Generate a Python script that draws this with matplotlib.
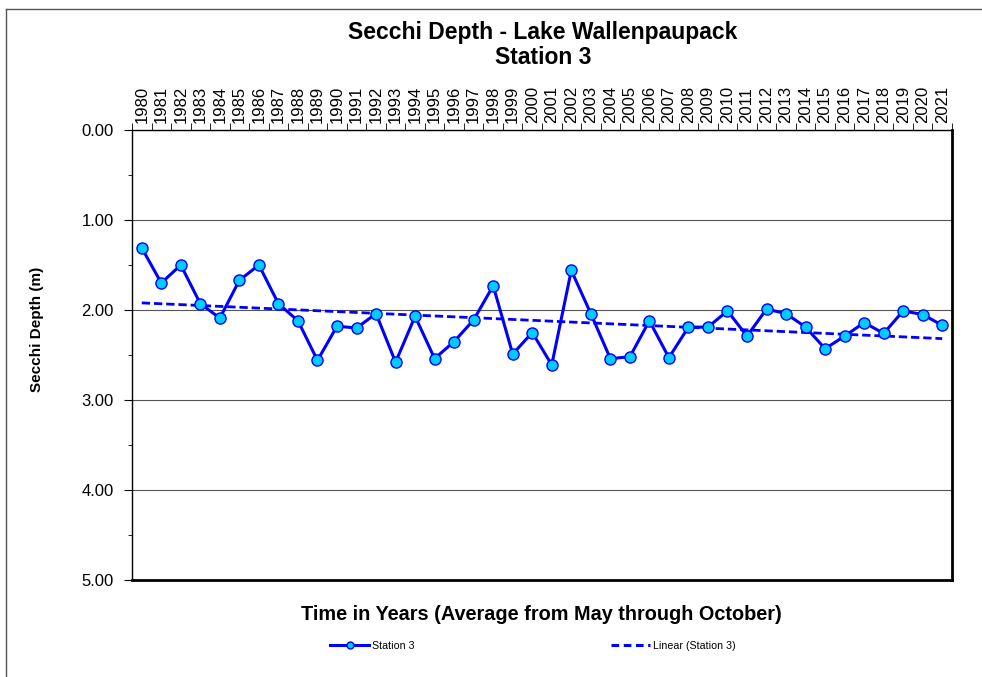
import numpy as np
import matplotlib.pyplot as plt
from matplotlib.lines import Line2D
from matplotlib.ticker import MultipleLocator

plt.rcParams['font.family'] = ['Liberation Sans', 'DejaVu Sans']

# Datos: profundidad Secchi promedio (m), mayo-octubre
anios = list(range(1980, 2022))
profundidad = [1.31, 1.70, 1.50, 1.93, 2.09, 1.67, 1.50, 1.93, 2.12, 2.56,
               2.18, 2.20, 2.04, 2.58, 2.07, 2.54, 2.35, 2.11, 1.73, 2.49,
               2.25, 2.61, 1.56, 2.04, 2.54, 2.52, 2.12, 2.53, 2.19, 2.19,
               2.01, 2.29, 1.99, 2.04, 2.19, 2.43, 2.29, 2.14, 2.26, 2.01,
               2.05, 2.17]
etiquetas = [str(a) for a in anios]

x = np.arange(len(anios))
pend, inter = np.polyfit(x, profundidad, 1)
tendencia = pend * x + inter

fig = plt.figure(figsize=(9.82, 6.77), dpi=100)
ax = fig.add_axes([132/982, 1 - 580/677, 820/982, 450/677])

azul = '#0000FF'
cian = '#00CCFF'

ax.plot(x, profundidad, '-o', color=azul, lw=2.2, markersize=8,
        markerfacecolor=cian, markeredgecolor=azul, markeredgewidth=1.0,
        zorder=4)
ax.plot(x, tendencia, '--', color=azul, lw=2.0, dashes=(3, 1.4), zorder=3)

ax.set_xlim(-0.5, len(anios) - 0.5)
ax.set_ylim(5, 0)
ax.yaxis.set_major_locator(MultipleLocator(1))
ax.yaxis.set_minor_locator(MultipleLocator(0.5))
ax.set_yticklabels([f'{v:.2f}' for v in ax.get_yticks()])
ax.tick_params(axis='y', which='major', direction='out', length=6,
               labelsize=12, pad=7)
ax.tick_params(axis='y', which='minor', direction='out', length=3)

ax.xaxis.tick_top()
ax.set_xticks(x)
ax.set_xticklabels(etiquetas, rotation=90, fontsize=12)
ax.set_xticks(np.arange(-0.5, len(anios)), minor=True)
ax.tick_params(axis='x', which='major', length=0, pad=5)
ax.tick_params(axis='x', which='minor', direction='out', length=5)

ax.grid(axis='y', which='major', color='#555555', lw=0.8)
ax.set_axisbelow(True)
ax.spines['left'].set_linewidth(1.0)
ax.spines['top'].set_linewidth(1.0)
ax.spines['right'].set_linewidth(2.0)
ax.spines['bottom'].set_linewidth(2.0)

fig.text(37/982, 1 - 329/677, 'Secchi Depth (m)', rotation=90,
         ha='center', va='center', fontsize=11, fontweight='bold')

fig.text(543/982, 1 - 32/677, 'Secchi Depth - Lake Wallenpaupack',
         ha='center', va='center', fontsize=16.5, fontweight='bold')
fig.text(543/982, 1 - 58/677, 'Station 3',
         ha='center', va='center', fontsize=16.5, fontweight='bold')
fig.text(541/982, 1 - 615/677,
         'Time in Years (Average from May through October)',
         ha='center', va='center', fontsize=14.3, fontweight='bold')

manejadores = [
    Line2D([], [], color=azul, lw=2.2, marker='o', markersize=5,
           markerfacecolor=cian, markeredgecolor=azul),
    Line2D([], [], color=azul, lw=2.2, ls='--', dashes=(2.5, 1.5)),
]
fig.legend(manejadores, ['Station 3', 'Linear (Station 3)'], ncol=2,
           loc='center', bbox_to_anchor=(533/982, 1 - 646/677),
           frameon=False, fontsize=7.7, handlelength=3.6, handletextpad=0.3,
           columnspacing=18.4)

# Borde del área del gráfico
fig.add_artist(Line2D([6/982, 6/982], [0, 1 - 9/677], color='#555555',
                      lw=1.0, transform=fig.transFigure))
fig.add_artist(Line2D([6/982, 1], [1 - 9/677, 1 - 9/677], color='#555555',
                      lw=1.0, transform=fig.transFigure))

fig.savefig('out.png', dpi=100)
